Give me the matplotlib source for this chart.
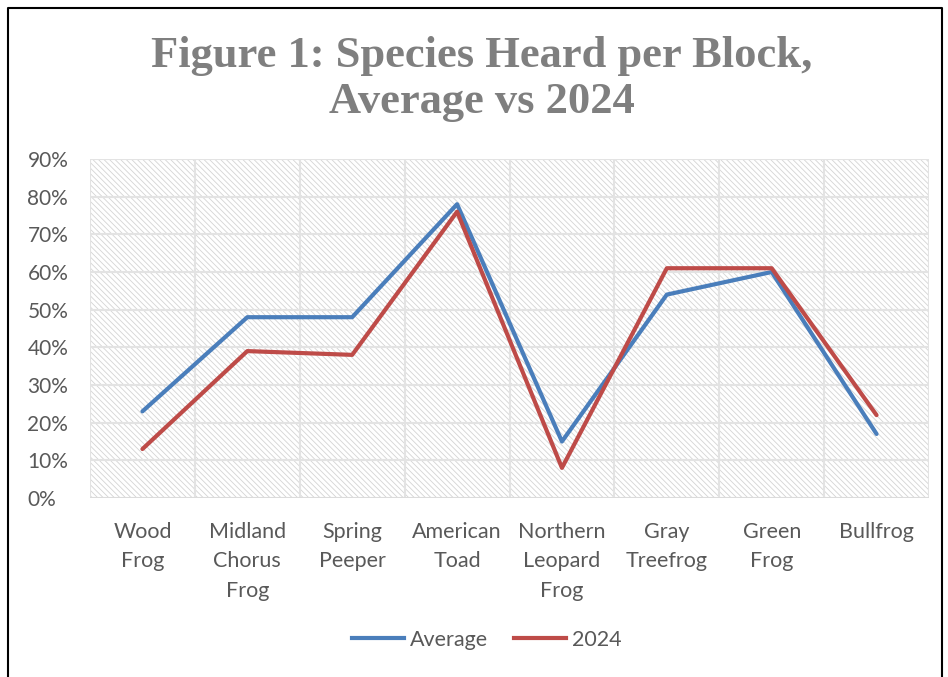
import matplotlib
matplotlib.use("Agg")
from matplotlib import pyplot as plt
from matplotlib.patches import Rectangle
from matplotlib.lines import Line2D
from matplotlib.ticker import PercentFormatter

species = ["Wood\nFrog", "Midland\nChorus\nFrog", "Spring\nPeeper", "American\nToad",
           "Northern\nLeopard\nFrog", "Gray\nTreefrog", "Green\nFrog", "Bullfrog"]
average = [23, 48, 48, 78, 15, 54, 60, 17]
y2024 = [13, 39, 38, 76, 8, 61, 61, 22]
yticks = list(range(0, 100, 10))

plt.rcParams["font.family"] = ["Lato", "DejaVu Sans"]
plt.rcParams["hatch.color"] = "#d4d4d4"
plt.rcParams["hatch.linewidth"] = 0.6

fig = plt.figure(figsize=(9.48, 6.77), dpi=100)
ax = fig.add_axes([90/948, 1-498/677, (929-90)/948, (498-159)/677])

x = list(range(len(species)))
ax.set_xlim(-0.5, len(species) - 0.5)
ax.set_ylim(0, 90)

# hatched plot background
ax.add_patch(Rectangle((-0.5, 0), len(species), 90, facecolor="white",
                       hatch="\\\\\\\\\\\\", edgecolor="#d4d4d4", lw=0, zorder=0))

for i in range(len(species) + 1):
    ax.axvline(i - 0.5, color="#e3e3e3", lw=1.5, zorder=1)
for t in yticks:
    ax.axhline(t, color="#e3e3e3", lw=1.5, zorder=1)
ax.axhline(0, color="#d9d9d9", lw=1.8, zorder=1)

ax.plot(x, average, color="#4a7ebb", lw=3, solid_capstyle="round", zorder=3)
ax.plot(x, y2024, color="#be4b48", lw=3, solid_capstyle="round", zorder=3)

ax.set_yticks(yticks)
ax.yaxis.set_major_formatter(PercentFormatter(decimals=0))
ax.set_xticks(x)
ax.set_xticklabels(species, va="top", linespacing=1.6)
ax.tick_params(length=0, colors="#595959")
ax.tick_params(axis="x", labelsize=15.5, pad=17)
ax.tick_params(axis="y", labelsize=15, pad=45)
for lab in ax.get_yticklabels():
    lab.set_horizontalalignment("left")
for s in ax.spines.values():
    s.set_visible(False)

fig.text(482/948, 1-79/677, "Figure 1: Species Heard per Block,\nAverage vs 2024",
         ha="center", va="center", fontsize=32, fontweight="bold",
         family="Liberation Serif", color="#7f7f7f", linespacing=1.2)

handles = [Line2D([], [], color="#4a7ebb", lw=3), Line2D([], [], color="#be4b48", lw=3)]
fig.legend(handles, ["Average", "2024"], loc="center", bbox_to_anchor=(487/948, 1-640/677),
           ncol=2, frameon=False, fontsize=15.5, labelcolor="#595959",
           handlelength=2.4, columnspacing=1.2, handletextpad=0.3)

# frame around the chart
fig.add_artist(Line2D([8/948, 8/948, 942/948, 942/948], [0, 1-8/677, 1-8/677, 0],
                      transform=fig.transFigure, color="black", lw=1.5))

fig.savefig("out.png", dpi=100)
